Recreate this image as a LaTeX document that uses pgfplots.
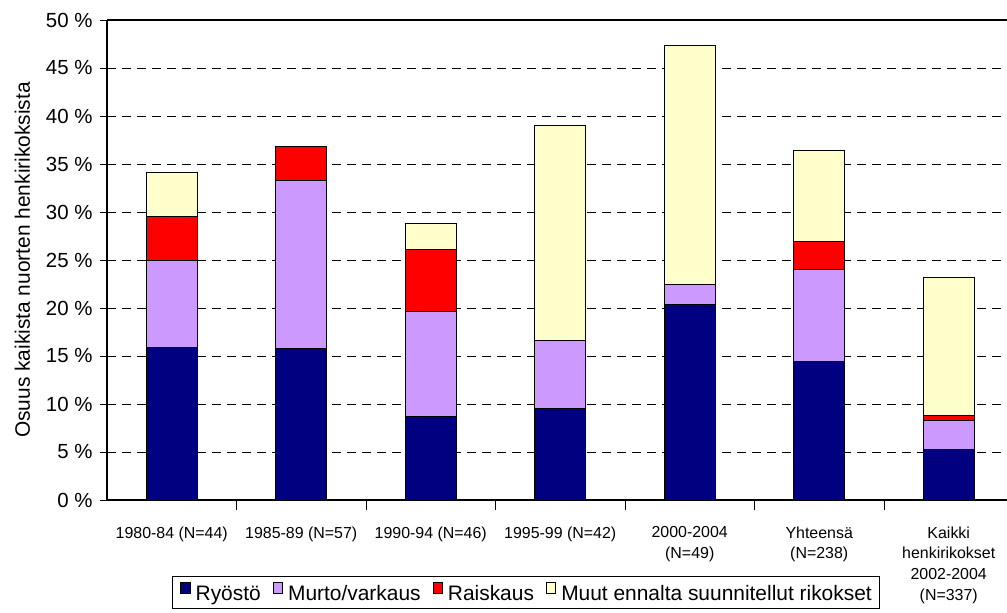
\documentclass[border=0pt]{standalone}
\usepackage{fontspec}
\setmainfont{Liberation Sans}
\usepackage{pgfplots}
\pgfplotsset{compat=1.18}
\definecolor{cNavy}{HTML}{000080}
\definecolor{cPurple}{HTML}{CC99FF}
\definecolor{cRed}{HTML}{FF0000}
\definecolor{cYellow}{HTML}{FFFFCC}
\begin{document}
\begin{tikzpicture}
\begin{axis}[
  scale only axis,
  width=900bp, height=480bp,
  ybar stacked,
  bar width=51bp,
  xmin=-0.5, xmax=6.45,
  ymin=0, ymax=50,
  axis x line=box, axis y line=left,
  axis line style={-, line width=1.2bp, black},
  xtick={0,...,6},
  xtick pos=left,
  major x tick style={draw=none},
  minor xtick={0.5,1.5,...,5.5},
  minor x tick style={black, line width=0.8bp},
  minor tick length=10bp,
  xticklabels={{1980-84 (N=44)},{1985-89 (N=57)},{1990-94 (N=46)},{1995-99 (N=42)},{2000-2004\\(N=49)},{Yhteensä\\(N=238)},{Kaikki\\henkirikokset\\2002-2004\\(N=337)}},
  xticklabel style={align=center, anchor=north, yshift=-16bp, font=\fontsize{16}{21}\selectfont},
  ytick={0,5,...,50},
  yticklabels={0 \%,5 \%,10 \%,15 \%,20 \%,25 \%,30 \%,35 \%,40 \%,45 \%,50 \%},
  yticklabel style={font=\fontsize{20.5}{23}\selectfont, xshift=-4bp},
  y tick style={black, line width=0.8bp},
  major tick length=7bp,
  tick align=outside,
  ymajorgrids,
  grid style={black, line width=0.7bp, dash pattern=on 9bp off 6bp},
  ylabel={Osuus kaikista nuorten henkirikoksista},
  ylabel style={at={(rel axis cs:0,0.5)}, anchor=center, yshift=84.5bp, font=\fontsize{21}{24}\selectfont},
  legend columns=-1,
  legend style={at={(0.0722,-0.1585)}, anchor=north west, draw=black, line width=0.8bp,
    font=\fontsize{21}{24}\selectfont, inner xsep=8bp, inner ysep=6bp,
    nodes={inner sep=0bp},
    /tikz/every odd column/.append style={column sep=5bp},
    /tikz/every even column/.append style={column sep=12bp}},
  legend image code/.code={\draw[#1, line width=0.8bp] (0bp,0bp) rectangle (9.5bp,11bp);},
  every axis plot/.append style={draw=black, line width=1bp},
]
\addplot[fill=cNavy] coordinates {(0,15.9) (1,15.8) (2,8.7) (3,9.5) (4,20.4) (5,14.4) (6,5.3)};
\addplot[fill=cPurple] coordinates {(0,9.1) (1,17.5) (2,10.9) (3,7.1) (4,2.0) (5,9.6) (6,3.0)};
\addplot[fill=cRed] coordinates {(0,4.5) (1,3.5) (2,6.5) (3,0) (4,0) (5,2.9) (6,0.5)};
\addplot[fill=cYellow] coordinates {(0,4.6) (1,0) (2,2.7) (3,22.4) (4,24.9) (5,9.5) (6,14.4)};
\legend{Ryöstö,Murto/varkaus,Raiskaus,Muut ennalta suunnitellut rikokset}
\coordinate (bl) at (rel axis cs:0,0);
\coordinate (tr) at (rel axis cs:1,1);
\end{axis}
\pgfresetboundingbox
\path[use as bounding box] ([shift={(-107bp,-113bp)}]bl) rectangle ([shift={(0bp,20bp)}]tr);
\end{tikzpicture}
\end{document}
